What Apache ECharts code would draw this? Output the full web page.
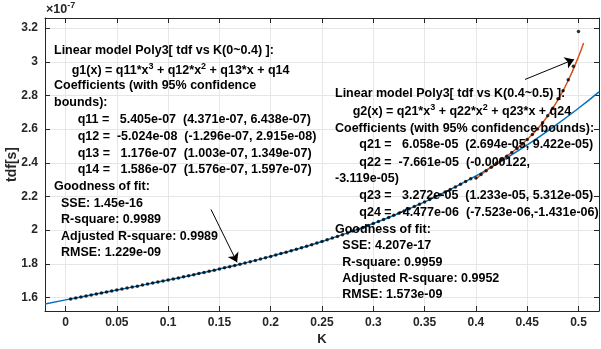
<!DOCTYPE html>
<html><head><meta charset="utf-8">
<script src="https://cdn.jsdelivr.net/npm/echarts@6/dist/echarts.min.js"></script>
<style>html,body{margin:0;padding:0;background:#fff}#c{width:601px;height:349px}</style>
</head><body><div id="c"></div>
<script>
// K values of the measured points
const kData = [0.005,0.01,0.015,0.02,0.025,0.03,0.035,0.04,0.045,0.05,
0.055,0.06,0.065,0.07,0.075,0.08,0.085,0.09,0.095,0.1,
0.105,0.11,0.115,0.12,0.125,0.13,0.135,0.14,0.145,0.15,
0.155,0.16,0.165,0.17,0.175,0.18,0.185,0.19,0.195,0.2,
0.205,0.21,0.215,0.22,0.225,0.23,0.235,0.24,0.245,0.25,
0.255,0.26,0.265,0.27,0.275,0.28,0.285,0.29,0.295,0.3,
0.305,0.31,0.315,0.32,0.325,0.33,0.335,0.34,0.345,0.35,
0.355,0.36,0.365,0.37,0.375,0.38,0.385,0.39,0.395,0.4,
0.405,0.41,0.415,0.42,0.425,0.43,0.435,0.44,0.445,0.45,
0.455,0.46,0.465,0.47,0.475,0.48,0.485,0.49,0.495,0.5];
// tdf values (x 1e-7 s)
const tdfData = [1.5919,1.5977,1.6035,1.6094,1.6152,1.6210,1.6268,1.6326,1.6384,1.6442,
1.6501,1.6559,1.6618,1.6677,1.6737,1.6796,1.6856,1.6917,1.6978,1.7040,
1.7102,1.7165,1.7228,1.7292,1.7357,1.7423,1.7489,1.7556,1.7624,1.7693,
1.7763,1.7834,1.7906,1.7980,1.8054,1.8129,1.8206,1.8284,1.8363,1.8443,
1.8525,1.8609,1.8693,1.8780,1.8867,1.8957,1.9048,1.9140,1.9235,1.9331,
1.9428,1.9528,1.9629,1.9733,1.9838,1.9945,2.0055,2.0166,2.0280,2.0395,
2.0513,2.0633,2.0755,2.0880,2.1007,2.1136,2.1268,2.1402,2.1539,2.1678,
2.1820,2.1964,2.2111,2.2261,2.2414,2.2569,2.2727,2.2889,2.3052,2.310,
2.330,2.353,2.374,2.397,2.418,2.439,2.462,2.485,2.511,2.539,
2.568,2.601,2.638,2.679,2.724,2.780,2.828,2.894,2.974,3.180];
// fitted curve g1 (blue)
const fit1K = [-0.02,0,0.025,0.05,0.075,0.1,0.125,0.15,0.175,0.2,0.225,0.25,0.275,0.3,0.325,0.35,0.375,0.4,0.425,0.45,0.475,0.5,0.52];
const fit1V = [1.5622,1.586,1.6152,1.6442,1.6737,1.7040,1.7357,1.7693,1.8054,1.8443,1.8867,1.9331,1.9838,2.0395,2.1007,2.1678,2.2414,2.3219,2.4100,2.5060,2.6105,2.7240,2.8217];
// fitted curve g2 (orange)
const fit2K = [0.4,0.41,0.42,0.43,0.44,0.45,0.46,0.47,0.48,0.49,0.5,0.505];
const fit2V = [2.305,2.353,2.397,2.439,2.485,2.539,2.601,2.679,2.774,2.889,3.030,3.111];
const xTicks = [0,0.05,0.1,0.15,0.2,0.25,0.3,0.35,0.4,0.45,0.5];
const yTicks = [1.6,1.8,2,2.2,2.4,2.6,2.8,3,3.2];

const note1 = [
 [54, 51, 'Linear model Poly3[ tdf vs K(0~0.4) ]:'],
 [71.7, 71, 'g1(x) = q11*x{s|3} + q12*x{s|2} + q13*x + q14'],
 [54, 86, 'Coefficients (with 95% confidence'],
 [54, 102.5, 'bounds):'],
 [77.7, 120, 'q11 =   5.405e-07  (4.371e-07, 6.438e-07)'],
 [77.7, 136.7, 'q12 =  -5.024e-08  (-1.296e-07, 2.915e-08)'],
 [77.7, 153.3, 'q13 =   1.176e-07  (1.003e-07, 1.349e-07)'],
 [77.7, 170, 'q14 =   1.586e-07  (1.576e-07, 1.597e-07)'],
 [54, 186.5, 'Goodness of fit:'],
 [61, 203.3, 'SSE: 1.45e-16'],
 [61, 220, 'R-square: 0.9989'],
 [61, 236.5, 'Adjusted R-square: 0.9989'],
 [61, 252.5, 'RMSE: 1.229e-09']
];
const note2 = [
 [335, 93.3, 'Linear model Poly3[ tdf vs K(0.4~0.5) ]:'],
 [352.7, 112, 'g2(x) = q21*x{s|3} + q22*x{s|2} + q23*x + q24'],
 [335, 128.5, 'Coefficients (with 95% confidence bounds):'],
 [359.3, 145, 'q21 =   6.058e-05  (2.694e-05, 9.422e-05)'],
 [359.3, 162.3, 'q22 =  -7.661e-05  (-0.000122,'],
 [335, 179, '-3.119e-05)'],
 [359.3, 195.7, 'q23 =   3.272e-05  (1.233e-05, 5.312e-05)'],
 [359.3, 212.3, 'q24 =  -4.477e-06  (-7.523e-06,-1.431e-06)'],
 [335, 229.3, 'Goodness of fit:'],
 [342.3, 245.5, 'SSE: 4.207e-17'],
 [342.3, 262.3, 'R-square: 0.9959'],
 [342.3, 279, 'Adjusted R-square: 0.9952'],
 [342.3, 294.5, 'RMSE: 1.573e-09']
];

const FF = '"Liberation Sans", Arial, Helvetica, sans-serif';
const AX = '#262626';
function mkX(pos, lab) {
  return {type:'value', position:pos, min:-0.02, max:0.52,
    axisLine:{show:true,onZero:false,lineStyle:{color:AX,width:1}},
    axisTick:{show:true,inside:true,length:5,customValues:xTicks,lineStyle:{color:AX,width:1}},
    axisLabel:{show:lab,customValues:xTicks,margin:6,color:AX,fontWeight:'bold',fontSize:12,fontFamily:FF},
    splitLine:{show:lab,lineStyle:{color:'#e6e6e6',width:1}}};
}
function mkY(pos, lab) {
  return {type:'value', position:pos, min:1.52, max:3.26,
    axisLine:{show:true,onZero:false,lineStyle:{color:AX,width:1}},
    axisTick:{show:true,inside:true,length:5,customValues:yTicks,lineStyle:{color:AX,width:1}},
    axisLabel:{show:lab,customValues:yTicks,margin:7,color:AX,fontWeight:'bold',fontSize:12,fontFamily:FF},
    splitLine:{show:lab,lineStyle:{color:'#e6e6e6',width:1}}};
}
const SUP = {s:{font:'bold 9px ' + FF, fill:'#000', padding:[0,0,8,0]}};
function txt(x, y, s) {
  return {type:'text', x:x, y:y, z:100, silent:true,
    style:{text:s, fill:'#000', font:'bold 12.5px ' + FF, verticalAlign:'middle', align:'left', rich:SUP}};
}
const graphics = [];
note1.concat(note2).forEach(function(n){ graphics.push(txt(n[0], n[1], n[2])); });
graphics.push({type:'text', x:46, y:10, z:100, style:{text:'×10{e|-7}', fill:AX, font:'bold 12.5px ' + FF, verticalAlign:'middle',
  rich:{e:{font:'bold 9px ' + FF, fill:AX, padding:[0,0,9,0]}}}});
graphics.push({type:'text', x:12, y:164.5, rotation:Math.PI/2, z:100, style:{text:'tdf[s]', fill:AX, font:'bold 14px ' + FF, verticalAlign:'middle', align:'center'}});
graphics.push({type:'text', x:322, y:339.5, z:100, style:{text:'K', fill:AX, font:'bold 13px ' + FF, verticalAlign:'middle', align:'center'}});

const chart = echarts.init(document.getElementById('c'), null, {renderer:'canvas'});
chart.setOption({
  animation:false,
  backgroundColor:'#fff',
  grid:{left:45, top:18, width:554, height:293, containLabel:false},
  xAxis:[mkX('bottom', true), mkX('top', false)],
  yAxis:[mkY('left', true), mkY('right', false)],
  series:[
    {type:'line', data:fit1K.map(function(k,i){return [k, fit1V[i]];}), smooth:true, showSymbol:false, symbol:'none',
     lineStyle:{color:'#0072BD', width:1.5}, z:3, clip:true},
    {type:'line', data:fit2K.map(function(k,i){return [k, fit2V[i]];}), smooth:true, showSymbol:false, symbol:'none',
     lineStyle:{color:'#D95319', width:1.5}, z:4, clip:true},
    {type:'scatter', data:kData.map(function(k,i){return [k, tdfData[i]];}), symbol:'circle', symbolSize:3.5,
     itemStyle:{color:'#000'}, z:5,
     markLine:{silent:true, symbol:['none','arrow'], symbolSize:9, label:{show:false},
       lineStyle:{color:'#000', width:1, type:'solid'},
       emphasis:{disabled:true},
       data:[
         [{coord:[0.1418, 2.123]}, {coord:[0.1672, 1.809]}],
         [{coord:[0.4479, 2.895]}, {coord:[0.4957, 3.014]}]
       ]}}
  ],
  graphic:graphics
});
</script>
</body></html>
